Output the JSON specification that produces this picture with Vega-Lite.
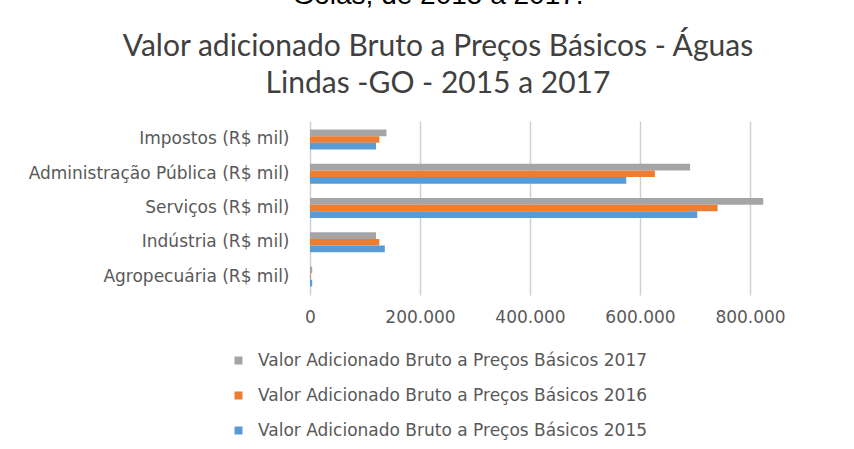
{
  "$schema": "https://vega.github.io/schema/vega-lite/v6.json",
  "width": 544,
  "height": 174,
  "autosize": {"type": "none"},
  "padding": {"left": 310, "top": 121, "right": 0, "bottom": 154},
  "background": "#ffffff",
  "title": {
    "text": "Goiás, de 2015 a 2017.",
    "subtitle": ["Valor adicionado Bruto a Preços Básicos - Águas", "Lindas -GO - 2015 a 2017"],
    "font": "Liberation Sans",
    "fontSize": 28,
    "fontWeight": "normal",
    "color": "#000000",
    "subtitleFont": "Lato",
    "subtitleFontSize": 30,
    "subtitleColor": "#404040",
    "subtitleLineHeight": 37,
    "subtitlePadding": 22,
    "anchor": "middle",
    "frame": "group",
    "dx": -144,
    "offset": 22
  },
  "data": {
    "values": [
      {"categoria": "Impostos (R$ mil)", "serie": "Valor Adicionado Bruto a Preços Básicos 2017", "valor": 139000},
      {"categoria": "Impostos (R$ mil)", "serie": "Valor Adicionado Bruto a Preços Básicos 2016", "valor": 126000},
      {"categoria": "Impostos (R$ mil)", "serie": "Valor Adicionado Bruto a Preços Básicos 2015", "valor": 120000},
      {"categoria": "Administração Pública (R$ mil)", "serie": "Valor Adicionado Bruto a Preços Básicos 2017", "valor": 691000},
      {"categoria": "Administração Pública (R$ mil)", "serie": "Valor Adicionado Bruto a Preços Básicos 2016", "valor": 627000},
      {"categoria": "Administração Pública (R$ mil)", "serie": "Valor Adicionado Bruto a Preços Básicos 2015", "valor": 575000},
      {"categoria": "Serviços (R$ mil)", "serie": "Valor Adicionado Bruto a Preços Básicos 2017", "valor": 824000},
      {"categoria": "Serviços (R$ mil)", "serie": "Valor Adicionado Bruto a Preços Básicos 2016", "valor": 741000},
      {"categoria": "Serviços (R$ mil)", "serie": "Valor Adicionado Bruto a Preços Básicos 2015", "valor": 704000},
      {"categoria": "Indústria (R$ mil)", "serie": "Valor Adicionado Bruto a Preços Básicos 2017", "valor": 120000},
      {"categoria": "Indústria (R$ mil)", "serie": "Valor Adicionado Bruto a Preços Básicos 2016", "valor": 126000},
      {"categoria": "Indústria (R$ mil)", "serie": "Valor Adicionado Bruto a Preços Básicos 2015", "valor": 136000},
      {"categoria": "Agropecuária (R$ mil)", "serie": "Valor Adicionado Bruto a Preços Básicos 2017", "valor": 4000},
      {"categoria": "Agropecuária (R$ mil)", "serie": "Valor Adicionado Bruto a Preços Básicos 2016", "valor": 1500},
      {"categoria": "Agropecuária (R$ mil)", "serie": "Valor Adicionado Bruto a Preços Básicos 2015", "valor": 4000}
    ]
  },
  "mark": {"type": "bar"},
  "encoding": {
    "y": {
      "field": "categoria",
      "type": "nominal",
      "sort": ["Impostos (R$ mil)", "Administração Pública (R$ mil)", "Serviços (R$ mil)", "Indústria (R$ mil)", "Agropecuária (R$ mil)"],
      "scale": {"paddingInner": 0.42, "paddingOuter": 0.25},
      "axis": {
        "title": null,
        "domain": false,
        "ticks": false,
        "grid": false,
        "labelPadding": 21,
        "labelLimit": 320,
        "labelFont": "DejaVu Sans",
        "labelFontSize": 17,
        "labelColor": "#595959"
      }
    },
    "yOffset": {
      "field": "serie",
      "type": "nominal",
      "sort": ["Valor Adicionado Bruto a Preços Básicos 2017", "Valor Adicionado Bruto a Preços Básicos 2016", "Valor Adicionado Bruto a Preços Básicos 2015"],
      "scale": {"paddingInner": 0}
    },
    "x": {
      "field": "valor",
      "type": "quantitative",
      "scale": {"domain": [0, 989000], "nice": false},
      "axis": {
        "title": null,
        "values": [0, 200000, 400000, 600000, 800000],
        "format": ",.0f",
        "domain": false,
        "ticks": false,
        "grid": true,
        "gridColor": "#d0d0d0",
        "gridWidth": 1.5,
        "labelFlush": false,
        "labelPadding": 14,
        "labelFont": "DejaVu Sans",
        "labelFontSize": 17,
        "labelColor": "#595959"
      }
    },
    "color": {
      "field": "serie",
      "type": "nominal",
      "scale": {
        "domain": ["Valor Adicionado Bruto a Preços Básicos 2017", "Valor Adicionado Bruto a Preços Básicos 2016", "Valor Adicionado Bruto a Preços Básicos 2015"],
        "range": ["#A5A5A5", "#ED7D31", "#5B9BD5"]
      },
      "legend": {
        "title": null,
        "orient": "none",
        "legendX": -80,
        "legendY": 231,
        "direction": "vertical",
        "symbolType": "square",
        "symbolSize": 64,
        "symbolStrokeWidth": 0,
        "labelFont": "DejaVu Sans",
        "labelFontSize": 17,
        "labelColor": "#595959",
        "labelOffset": 11,
        "rowPadding": 17,
        "labelLimit": 600
      }
    }
  },
  "config": {
    "view": {"stroke": null},
    "locale": {"number": {"decimal": ",", "thousands": ".", "grouping": [3], "currency": ["R$", ""]}}
  }
}
